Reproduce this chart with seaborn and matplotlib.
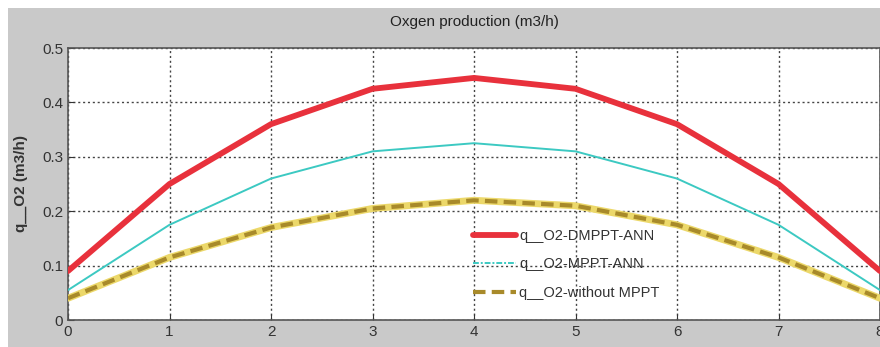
import numpy as np
import pandas as pd
import matplotlib
matplotlib.use("Agg")
import matplotlib.pyplot as plt
import matplotlib.patches as mpatches
from matplotlib.lines import Line2D
import seaborn as sns

hours = [0, 1, 2, 3, 4, 5, 6, 7, 8]
q_dmppt_ann = [0.09, 0.25, 0.36, 0.425, 0.445, 0.425, 0.36, 0.25, 0.09]
q_mppt_ann = [0.055, 0.175, 0.26, 0.31, 0.325, 0.31, 0.26, 0.175, 0.055]
q_without = [0.04, 0.115, 0.17, 0.205, 0.22, 0.21, 0.175, 0.115, 0.04]
labels = ["q__O2-DMPPT-ANN", "q__O2-MPPT-ANN", "q__O2-without MPPT"]
title = "Oxgen production (m3/h)"
ylabel = "q__O2 (m3/h)"
yticks = [0, 0.1, 0.2, 0.3, 0.4, 0.5]
xticks = [0, 1, 2, 3, 4, 5, 6, 7, 8]

sns.set_style("white")
plt.rcParams["font.family"] = ["Liberation Sans", "DejaVu Sans"]

df = pd.DataFrame({"t": hours, "red": q_dmppt_ann, "cyan": q_mppt_ann, "gold": q_without})

fig = plt.figure(figsize=(8.8, 3.47), dpi=100, facecolor="white")
bg = mpatches.Rectangle((8 / 880, 0), 1, 1 - 8 / 347, transform=fig.transFigure,
                        facecolor="#c9c9c9", edgecolor="none", zorder=-10)
fig.patches.append(bg)
ax = fig.add_axes([68 / 880, 1 - 320 / 347, 1 - 68 / 880, (320 - 48) / 347])
ax.set_zorder(5)
ax.set_facecolor("white")

sns.lineplot(data=df, x="t", y="red", ax=ax, color="#e8313c", linewidth=4.2,
             estimator=None, zorder=5)
sns.lineplot(data=df, x="t", y="cyan", ax=ax, color="#3cc9c2", linewidth=1.4,
             estimator=None, zorder=4)
sns.lineplot(data=df, x="t", y="gold", ax=ax, color="#ecd86a", linewidth=5.0,
             estimator=None, zorder=3)
sns.lineplot(data=df, x="t", y="gold", ax=ax, color="#a88a2a", linewidth=3.0,
             estimator=None, zorder=3.5)
ax.lines[-1].set_dashes([3, 1.5])

ax.set_xlim(0, 8)
ax.set_ylim(0, 0.5)
ax.set_xticks(xticks)
ax.set_yticks(yticks)
ax.set_xticklabels([str(v) for v in xticks])
ax.set_yticklabels(["0", "0.1", "0.2", "0.3", "0.4", "0.5"])
ax.grid(True, color="#444444", linestyle=(0, (1.5, 2.0)), linewidth=1.0)
ax.set_axisbelow(True)
ax.tick_params(axis="both", labelsize=11, colors="#333333", length=4, direction="in",
               left=True, bottom=True)
for s in ax.spines.values():
    s.set_color("#555555")
    s.set_linewidth(1.2)
ax.set_xlabel("")
ax.set_ylabel(ylabel, fontsize=11, fontweight="bold", color="#333333", labelpad=10)

fig.text(0.5 + 34 / 880, 1 - 22 / 347, title, ha="center", va="center", fontsize=11, color="#222222")

h_red = Line2D([], [], color="#e8313c", linewidth=4.2)
h_cyan = Line2D([], [], color="#3cc9c2", linewidth=1.4, linestyle=(0, (3, 1, 1, 1)))
h_gold = Line2D([], [], color="#a88a2a", linewidth=3.0, dashes=[3, 1.5])
leg = ax.legend([h_red, h_cyan, h_gold], labels, loc="lower left",
                bbox_to_anchor=(0.482, 0.025), frameon=False, fontsize=10.5,
                handlelength=3.0, handletextpad=0.2, labelspacing=1.0)
for t in leg.get_texts():
    t.set_color("#333333")

fig.savefig("out.png", dpi=100, facecolor=fig.get_facecolor())
